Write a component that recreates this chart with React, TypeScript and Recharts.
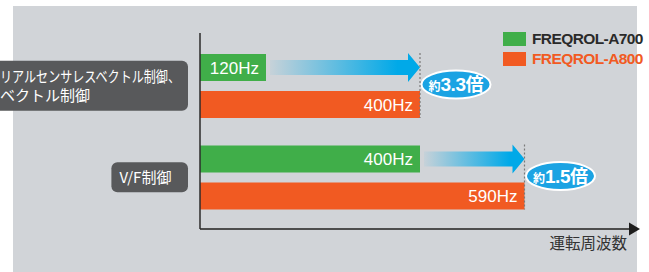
import React from 'react';
import { BarChart, Bar, XAxis, YAxis, Legend, LabelList } from 'recharts';

// chart values
const categories = ['リアルセンサレスベクトル制御、\nベクトル制御', 'V/F制御'];
const a700Hz = [120, 400];
const a800Hz = [400, 590];
const seriesNames = ['FREQROL-A700', 'FREQROL-A800'];
const axisTitle = '運転周波数';

const GREEN = '#40AE49';
const ORANGE = '#F15A22';
const BLUE = '#00A9E8';
const LATIN = '"Liberation Sans", Arial, sans-serif';
const CJK = '"Noto Sans CJK JP", "Noto Sans", sans-serif';

const data = categories.map((name, i) => ({ name, a700: a700Hz[i], a800: a800Hz[i] }));

const LABEL_FONT = 15;
const MAX_LABEL_TEXT = 180;

// rough width of a line in the CJK font
function estimateWidth(line: string) {
  let w = 0;
  for (const ch of line) {
    const c = ch.charCodeAt(0);
    if (c >= 0x2e80) w += LABEL_FONT;
    else w += LABEL_FONT * 0.68;
  }
  return w;
}

function CategoryTick(props: any) {
  const { y, payload } = props;
  const lines = String(payload.value).split('\n');
  const lh = 19;
  const pad = 8;
  const textW = Math.min(MAX_LABEL_TEXT, Math.max(...lines.map(estimateWidth)));
  const w = textW + pad * 2;
  const h = lines.length * 20 + 10;
  const right = 188;
  const left = right - w;
  return (
    <g>
      <rect x={left} y={y - h / 2} width={w} height={h} rx={6} fill="#58595B" />
      {lines.map((l, i) => {
        const natural = estimateWidth(l);
        const squeeze = natural > MAX_LABEL_TEXT;
        return (
          <text
            key={i}
            x={left + pad}
            y={y - ((lines.length - 1) * lh) / 2 + i * lh + 5.5}
            fill="#fff"
            fontSize={LABEL_FONT}
            fontFamily={CJK}
            textLength={squeeze ? MAX_LABEL_TEXT : undefined}
            lengthAdjust={squeeze ? 'spacingAndGlyphs' : undefined}
          >
            {l}
          </text>
        );
      })}
    </g>
  );
}

// green bar + arrow to the A800 value + ratio badge
function A700Shape(props: any) {
  const { x, y, width, height, payload, index, fill } = props;
  const pxPerHz = width / payload.a700;
  const tip = x + payload.a800 * pxPerHz;
  const start = x + width + 4;
  const cy = y + height / 2;
  const head = 12;
  const gid = `arrow-grad-${index}`;
  const ratio = (payload.a800 / payload.a700).toFixed(1);
  const bx = tip + 36;
  const by = cy + 17;
  return (
    <g>
      <rect x={x} y={y} width={width} height={height} fill={fill} />
      <defs>
        <linearGradient id={gid} x1="0" y1="0" x2="1" y2="0">
          <stop offset="0" stopColor={BLUE} stopOpacity={0.05} />
          <stop offset="0.85" stopColor={BLUE} stopOpacity={1} />
        </linearGradient>
      </defs>
      <polygon
        points={`${start},${cy - 7.5} ${tip - head},${cy - 7.5} ${tip - head},${cy - 14.5} ${tip},${cy} ${tip - head},${cy + 14.5} ${tip - head},${cy + 7.5} ${start},${cy + 7.5}`}
        fill={`url(#${gid})`}
      />
      <ellipse cx={bx} cy={by} rx={34.5} ry={14} fill="#1BA3E3" stroke="#fff" strokeWidth={2} />
      <text x={bx} y={by + 6.5} textAnchor="middle" fill="#fff" fontWeight="bold" fontFamily={LATIN}>
        <tspan fontSize={12} fontFamily={CJK}>約</tspan>
        <tspan fontSize={19} letterSpacing={-0.5}>{ratio}</tspan>
        <tspan fontSize={18} fontFamily={CJK}>倍</tspan>
      </text>
    </g>
  );
}

function A800Shape(props: any) {
  const { x, y, width, height, fill } = props;
  const end = x + width;
  return (
    <g>
      <rect x={x} y={y} width={width} height={height} fill={fill} />
      <line x1={end} x2={end} y1={y - 38} y2={y + height} stroke="#7a7a7a" strokeWidth={1.2} strokeDasharray="2 2" />
    </g>
  );
}

function AxisTitle(props: any) {
  const vb = props.viewBox || {};
  const end = (vb.x ?? 200) + (vb.width ?? 429);
  const y = vb.y ?? 229;
  return (
    <g>
      <polygon points={`${end},${y - 6.5} ${end + 11},${y} ${end},${y + 6.5}`} fill="#1e1e1e" />
      <text x={end - 2} y={y + 19.5} textAnchor="end" fontSize={15.5} fill="#333" fontFamily={CJK}>
        {axisTitle}
      </text>
    </g>
  );
}

function LegendContent() {
  const colors = [GREEN, ORANGE];
  return (
    <div style={{ fontFamily: LATIN, fontWeight: 'bold', fontSize: 15.5, letterSpacing: -0.6, whiteSpace: 'nowrap' }}>
      {seriesNames.map((n, i) => (
        <div key={n} style={{ display: 'flex', alignItems: 'center', height: 20 }}>
          <span style={{ width: 23, height: 14, background: colors[i], marginRight: 6, display: 'inline-block', flex: 'none' }} />
          <span style={{ color: i === 0 ? '#2a2a2a' : ORANGE }}>{n}</span>
        </div>
      ))}
    </div>
  );
}

export default function App() {
  return (
    <div style={{ position: 'absolute', left: 0, top: 0, width: 649, height: 272 }}>
      <div style={{ position: 'absolute', left: 13, top: 6, width: 624, height: 266, background: '#D1D4D8' }} />
      <BarChart
        width={649}
        height={272}
        data={data}
        layout="vertical"
        margin={{ top: 33, right: 20, bottom: 0, left: 0 }}
        barSize={27}
        barGap={10}
      >
        <XAxis
          type="number"
          domain={[0, 780]}
          tick={false}
          tickLine={false}
          height={43}
          axisLine={{ stroke: '#4d4d4d', strokeWidth: 1.8 }}
          label={{ content: AxisTitle }}
        />
        <YAxis
          type="category"
          dataKey="name"
          width={200}
          interval={0}
          tickLine={false}
          axisLine={{ stroke: '#2b2b2b', strokeWidth: 1.5 }}
          tick={CategoryTick}
          padding={{ top: 7, bottom: 6 }}
        />
        <Legend
          layout="vertical"
          align="center"
          verticalAlign="middle"
          content={LegendContent}
          wrapperStyle={{ top: 29, left: 503, width: 146 }}
        />
        <Bar dataKey="a700" name={seriesNames[0]} fill={GREEN} shape={A700Shape} isAnimationActive={false}>
          <LabelList
            dataKey="a700"
            position="insideRight"
            offset={7}
            fill="#fff"
            fontSize={17}
            fontFamily={LATIN}
            formatter={(v: any) => `${v}Hz`}
          />
        </Bar>
        <Bar dataKey="a800" name={seriesNames[1]} fill={ORANGE} shape={A800Shape} isAnimationActive={false}>
          <LabelList
            dataKey="a800"
            position="insideRight"
            offset={7}
            fill="#fff"
            fontSize={17}
            fontFamily={LATIN}
            formatter={(v: any) => `${v}Hz`}
          />
        </Bar>
      </BarChart>
    </div>
  );
}
